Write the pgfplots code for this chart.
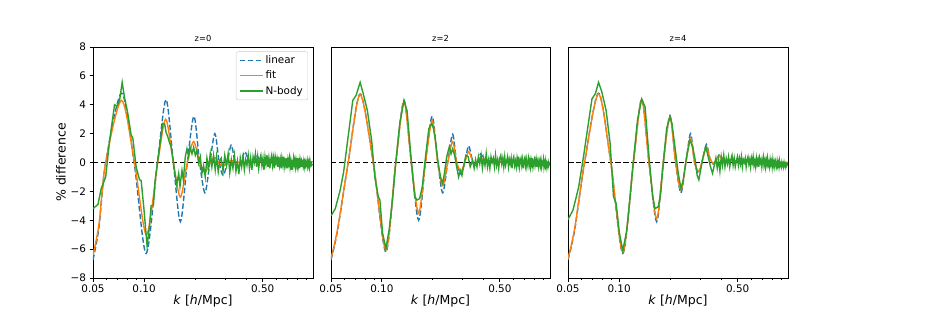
\documentclass[border=0pt]{standalone}
\usepackage{fontspec}
\setmainfont{DejaVu Sans}
\usepackage{pgfplots}
\pgfplotsset{compat=1.18}
\definecolor{mplblue}{RGB}{31,119,180}
\definecolor{mplorange}{RGB}{255,127,14}
\definecolor{mplgreen}{RGB}{44,160,44}
\begin{document}
\begin{tikzpicture}
\useasboundingbox (0,0) rectangle (927pt,309pt);
% ---------------- z=0
\begin{axis}[at={(93pt,31pt)}, anchor=south west, width=220pt,
  scale only axis, height=231pt,
  xmode=log, xmin=0.05, xmax=0.99, ymin=-8, ymax=8,
  xtick={0.05,0.1,0.5}, xticklabels={0.05,0.10,0.50},
  minor xtick={0.06,0.07,0.08,0.09,0.2,0.3,0.4,0.6,0.7,0.8,0.9},
  tick align=outside, tick pos=left,
  major tick length=3.5pt, minor tick length=2pt,
  every tick/.style={black, line width=0.8pt},
  minor tick style={black, line width=0.6pt},
  axis line style={line width=0.8pt},
  ticklabel style={font=\fontsize{10.4}{12}\selectfont},
  xlabel={\textit{k} [\textit{h}/Mpc]},
  xlabel style={font=\fontsize{12.5}{14}\selectfont, yshift=5pt},
  title style={font=\fontsize{8.3}{10}\selectfont, yshift=-4pt},
  title={z=0},
  ytick={-8,-6,-4,-2,0,2,4,6,8},
  yticklabels={−8,−6,−4,−2,0,2,4,6,8},
  ylabel={\% difference},
  ylabel style={font=\fontsize{12.5}{14}\selectfont, yshift=-2pt},
  legend style={at={(rel axis cs:1,1)}, anchor=north east, xshift=-5pt, yshift=-4.5pt,
    draw=black!20, rounded corners=2pt, fill=white,
    font=\fontsize{10.4}{12}\selectfont, inner xsep=3pt, inner ysep=2pt, row sep=2pt},
  legend cell align=left,
  legend image post style={xscale=1.35},
]
\addlegendimage{color=mplblue, solid, line width=1.4pt, dash pattern=on 5.5pt off 2.4pt}
\addlegendentry{linear}
\addlegendimage{color=mplorange, solid, line width=1.4pt}
\addlegendentry{fit}
\addlegendimage{color=mplgreen, solid, line width=1.4pt}
\addlegendentry{N-body}
\addplot[black, line width=1.2pt, dash pattern=on 5.5pt off 2.4pt, forget plot] coordinates {(0.05,0) (0.99,0)};
\addplot[color=mplblue, line width=1.4pt, dash pattern=on 5.5pt off 2.4pt, smooth, forget plot] coordinates {
(0.0500,-6.75) (0.0542,-4.5) (0.0594,0) (0.0737,4.8) (0.0874,0) (0.1028,-6.3)
(0.1199,0) (0.1347,4.35) (0.1488,0) (0.1636,-4.1) (0.1798,0) (0.1968,3.2)
(0.2125,0) (0.2284,-2.1) (0.2444,0) (0.2614,2.0) (0.2773,0) (0.2927,-0.9)
(0.3089,0) (0.3262,1.2) (0.3427,0.1) (0.3585,-0.35) (0.3750,0.15) (0.3923,0.75)
(0.4086,0.3) (0.4255,-0.1) (0.4432,0.2) (0.4594,0.5) (0.4763,0.25) (0.4938,0.05)
(0.528,0.3) (0.570,0.1) (0.624,0.15) (0.748,0.05) (0.99,0.05)};
\addplot[color=mplorange, line width=1.4pt, smooth, forget plot] coordinates {
(0.0500,-6.4) (0.0542,-4.3) (0.0594,0) (0.0737,4.3) (0.0878,0) (0.1033,-5.0)
(0.1204,0) (0.1341,3.0) (0.1488,0) (0.1636,-2.4) (0.1798,0) (0.1960,1.45)
(0.2125,0) (0.2284,-0.7) (0.2444,0) (0.2602,0.35) (0.2773,-0.05) (0.2927,-0.25)
(0.3174,0.1) (0.3396,0.1) (0.3634,0.0) (0.4161,0.05) (0.597,0.05) (0.99,0.05)};
\addplot[color=mplgreen, line width=1.4pt, forget plot] coordinates {
(0.0500,-3.2) (0.0535,-2.9) (0.0559,-1.8) (0.0594,-1.0) (0.0626,1.5) (0.0670,4.0)
(0.0692,3.9) (0.0717,4.3) (0.0743,5.55) (0.0767,4.5) (0.0802,3.4) (0.0839,1.9)
(0.0858,1.7) (0.0898,-0.3) (0.0940,-1.2) (0.0961,-1.25) (0.0996,-3.1) (0.1042,-5.8)
(0.1076,-4.4) (0.1100,-3.0) (0.1135,-2.95) (0.1161,-1.3) (0.1204,0.15) (0.1249,1.5)
(0.1288,2.7) (0.1324,2.65) (0.1347,2.1) (0.1378,1.8) (0.1410,1.4) (0.1442,1.1)
(0.1474,0.4) (0.1508,-0.5) (0.1557,-1.55) (0.1600,-0.75) (0.1628,-1.65) (0.1673,-0.55)
(0.1704,-1.2) (0.1750,0.4) (0.1790,0.95) (0.1831,0.4) (0.1865,1.1) (0.1916,0.6)
(0.1960,1.05) (0.2004,0.5) (0.2049,0.85) (0.2096,-0.05) (0.2144,0.4) (0.2193,-0.75)
(0.2243,-0.2) (0.2294,-1.0) (0.2347,0.3) (0.2400,-0.4) (0.2455,0.6) (0.2510,-0.3)
(0.2568,0.5) (0.2626,-0.5) (0.2674,0.4) (0.2736,-0.65) (0.2798,0.15)
(0.285,0.3) (0.292,-0.6) (0.299,0.5) (0.306,-0.2) (0.313,0.6) (0.320,-0.7)
(0.327,0.2) (0.334,-0.4) (0.341,0.5) (0.348,-0.6) (0.355,0.1) (0.362,-0.8)
(0.369,0.3) (0.376,-0.3) (0.383,0.4) (0.390,-0.5) (0.397,0.2) (0.404,-0.2)
(0.411,0.5) (0.418,-0.4) (0.425,0.3) (0.432,-0.5) (0.439,0.4) (0.446,0.0)
(0.453,0.6) (0.460,-0.3) (0.467,0.4) (0.474,-0.4) (0.481,0.2) (0.488,0.5)
(0.495,-0.2) (0.502,0.3) (0.509,-0.5) (0.516,0.4) (0.523,-0.1) (0.530,0.5)
(0.537,-0.3) (0.544,0.3) (0.551,-0.4) (0.558,0.2) (0.565,0.5) (0.572,-0.2)
(0.579,0.3) (0.586,-0.4) (0.593,0.4) (0.600,0.0) (0.607,0.3) (0.614,-0.3)
(0.621,0.4) (0.628,-0.2) (0.635,0.2) (0.642,-0.4) (0.649,0.3) (0.656,-0.1)
(0.663,0.4) (0.670,-0.3) (0.677,0.1) (0.684,-0.2) (0.691,0.3) (0.698,-0.4)
(0.705,0.2) (0.712,-0.1) (0.719,0.3) (0.726,-0.3) (0.733,0.1) (0.740,-0.5)
(0.747,0.2) (0.754,-0.2) (0.761,0.3) (0.768,-0.1) (0.775,0.2) (0.782,-0.3)
(0.789,0.1) (0.796,-0.2) (0.803,0.3) (0.810,-0.3) (0.817,0.0) (0.824,-0.4)
(0.831,0.2) (0.838,-0.1) (0.845,0.1) (0.852,-0.3) (0.859,0.2) (0.866,-0.2)
(0.873,0.1) (0.880,-0.3) (0.887,0.0) (0.894,-0.2) (0.901,0.1) (0.908,-0.1)
(0.915,-0.3) (0.922,0.1) (0.929,-0.2) (0.936,0.0) (0.943,-0.3) (0.950,0.1)
(0.957,-0.2) (0.964,-0.1) (0.971,-0.2) (0.985,-0.1)};
\end{axis}
% ---------------- z=2
\begin{axis}[at={(331pt,31pt)}, anchor=south west, width=219pt,
  scale only axis, height=231pt,
  xmode=log, xmin=0.05, xmax=0.99, ymin=-8, ymax=8,
  xtick={0.05,0.1,0.5}, xticklabels={0.05,0.10,0.50},
  minor xtick={0.06,0.07,0.08,0.09,0.2,0.3,0.4,0.6,0.7,0.8,0.9},
  tick align=outside, tick pos=left,
  major tick length=3.5pt, minor tick length=2pt,
  every tick/.style={black, line width=0.8pt},
  minor tick style={black, line width=0.6pt},
  axis line style={line width=0.8pt},
  ticklabel style={font=\fontsize{10.4}{12}\selectfont},
  xlabel={\textit{k} [\textit{h}/Mpc]},
  xlabel style={font=\fontsize{12.5}{14}\selectfont, yshift=5pt},
  title style={font=\fontsize{8.3}{10}\selectfont, yshift=-4pt},
  title={z=2}, ytick=\empty]
\addplot[black, line width=1.2pt, dash pattern=on 5.5pt off 2.4pt] coordinates {(0.05,0) (0.99,0)};
\addplot[color=mplblue, line width=1.4pt, dash pattern=on 5.5pt off 2.4pt, smooth] coordinates {
(0.0500,-6.75) (0.0547,-4.7) (0.0632,0) (0.0744,4.75) (0.0890,0) (0.1057,-6.2)
(0.1209,0) (0.1353,4.3) (0.1494,0) (0.1651,-4.0) (0.1814,0) (0.1986,3.2)
(0.2144,0) (0.2294,-2.1) (0.2455,0) (0.2626,1.95) (0.2773,0) (0.2940,-0.8)
(0.3103,0.05) (0.3262,1.15) (0.3411,0.3) (0.3553,-0.2) (0.3700,0.1) (0.3853,0.6)
(0.4068,0.1) (0.4352,0.3) (0.4763,0.05) (0.597,0.1) (0.99,0.0)};
\addplot[color=mplorange, line width=1.4pt, smooth] coordinates {
(0.0500,-6.65) (0.0547,-4.6) (0.0632,0) (0.0744,4.7) (0.0890,0) (0.1057,-6.05)
(0.1209,0) (0.1353,4.2) (0.1494,0) (0.1651,-3.5) (0.1814,0) (0.1986,2.9)
(0.2144,0) (0.2294,-1.6) (0.2455,0) (0.2626,1.45) (0.2773,0) (0.2940,-0.6)
(0.3103,0.05) (0.3262,0.75) (0.3411,0.25) (0.3553,-0.15) (0.3700,0.05) (0.3853,0.35)
(0.4068,0.05) (0.4352,0.15) (0.4763,0.05) (0.597,0.05) (0.99,0.0)};
\addplot[color=mplgreen, line width=1.4pt] coordinates {
(0.0500,-3.7) (0.0530,-3.2) (0.0567,-1.9) (0.0594,-0.65) (0.0635,2.0) (0.0673,4.3)
(0.0704,4.65) (0.0744,5.55) (0.0777,4.75) (0.0821,3.6) (0.0870,1.55) (0.0909,-1.0)
(0.0952,-2.35) (0.0974,-2.6) (0.1010,-4.9) (0.1057,-5.95) (0.1105,-4.65) (0.1156,-2.6)
(0.1209,-0.05) (0.1277,2.7) (0.1353,4.3) (0.1410,3.6) (0.1494,0.15) (0.1564,-2.35)
(0.1614,-2.6) (0.1673,-2.5) (0.1735,-1.7) (0.1814,0.4) (0.1898,2.35) (0.1977,2.7)
(0.2022,2.35) (0.2077,1.55) (0.2144,0.15) (0.2223,-1.0) (0.2294,-1.45) (0.2347,-0.75)
(0.2422,0.4) (0.2510,1.1) (0.2568,0.6) (0.2626,0.95) (0.2698,0.5) (0.2773,-0.3)
(0.2849,-1.0) (0.2913,-0.55) (0.2980,-0.9) (0.3075,-0.05) (0.3145,0.5) (0.3247,0.4)
(0.3335,-0.3) (0.3443,0.15) (0.3521,-0.4)
(0.359,0.2) (0.366,-0.3) (0.373,0.4) (0.380,-0.1) (0.387,0.5) (0.394,-0.4)
(0.401,0.3) (0.408,-0.2) (0.415,0.6) (0.422,-0.3) (0.429,0.2) (0.436,-0.4)
(0.443,0.4) (0.450,0.0) (0.457,0.3) (0.464,-0.3) (0.471,0.5) (0.478,-0.2)
(0.485,0.2) (0.492,-0.4) (0.499,0.3) (0.506,0.5) (0.513,-0.1) (0.520,0.3)
(0.527,-0.3) (0.534,0.4) (0.541,-0.2) (0.548,0.1) (0.555,0.4) (0.562,-0.3)
(0.569,0.2) (0.576,-0.1) (0.583,0.3) (0.590,-0.4) (0.597,0.2) (0.604,0.4)
(0.611,-0.2) (0.618,0.1) (0.625,-0.3) (0.632,0.3) (0.639,-0.1) (0.646,0.4)
(0.653,-0.3) (0.660,0.1) (0.667,0.3) (0.674,-0.2) (0.681,0.2) (0.688,-0.4)
(0.695,0.1) (0.702,0.3) (0.709,-0.2) (0.716,0.2) (0.723,-0.3) (0.730,0.0)
(0.737,0.3) (0.744,-0.2) (0.751,0.1) (0.758,-0.3) (0.765,0.2) (0.772,-0.1)
(0.779,0.3) (0.786,-0.3) (0.793,0.0) (0.800,0.2) (0.807,-0.2) (0.814,0.1)
(0.821,-0.3) (0.828,0.2) (0.835,-0.1) (0.842,0.1) (0.849,-0.3) (0.856,0.0)
(0.863,0.2) (0.870,-0.2) (0.877,0.1) (0.884,-0.3) (0.891,0.0) (0.898,-0.1)
(0.905,0.2) (0.912,-0.3) (0.919,0.0) (0.926,-0.2) (0.933,0.1) (0.940,-0.3)
(0.947,0.0) (0.954,-0.1) (0.961,-0.3) (0.968,0.0) (0.975,-0.2) (0.982,-0.1)
(0.989,-0.2)};
\end{axis}
% ---------------- z=4
\begin{axis}[at={(568pt,31pt)}, anchor=south west, width=220pt,
  scale only axis, height=231pt,
  xmode=log, xmin=0.05, xmax=0.99, ymin=-8, ymax=8,
  xtick={0.05,0.1,0.5}, xticklabels={0.05,0.10,0.50},
  minor xtick={0.06,0.07,0.08,0.09,0.2,0.3,0.4,0.6,0.7,0.8,0.9},
  tick align=outside, tick pos=left,
  major tick length=3.5pt, minor tick length=2pt,
  every tick/.style={black, line width=0.8pt},
  minor tick style={black, line width=0.6pt},
  axis line style={line width=0.8pt},
  ticklabel style={font=\fontsize{10.4}{12}\selectfont},
  xlabel={\textit{k} [\textit{h}/Mpc]},
  xlabel style={font=\fontsize{12.5}{14}\selectfont, yshift=5pt},
  title style={font=\fontsize{8.3}{10}\selectfont, yshift=-4pt},
  title={z=4}, ytick=\empty]
\addplot[black, line width=1.2pt, dash pattern=on 5.5pt off 2.4pt] coordinates {(0.05,0) (0.99,0)};
\addplot[color=mplblue, line width=1.4pt, dash pattern=on 5.5pt off 2.4pt, smooth] coordinates {
(0.0500,-6.75) (0.0547,-4.7) (0.0626,0) (0.0757,4.8) (0.0894,0) (0.1052,-6.3)
(0.1215,0) (0.1359,4.4) (0.1501,0) (0.1666,-4.1) (0.1822,0) (0.1995,3.25)
(0.2154,0) (0.2315,-2.1) (0.2477,0) (0.2638,2.0) (0.2786,0) (0.2953,-0.75)
(0.3103,0.2) (0.3276,1.25) (0.3427,0.3) (0.3585,-0.1) (0.3750,0.2) (0.3923,0.55)
(0.4161,0.1) (0.4553,0.2) (0.521,0.05) (0.99,0.0)};
\addplot[color=mplorange, line width=1.4pt, smooth] coordinates {
(0.0500,-6.65) (0.0547,-4.6) (0.0626,0) (0.0757,4.75) (0.0894,0) (0.1052,-6.2)
(0.1215,0) (0.1359,4.35) (0.1501,0) (0.1666,-3.9) (0.1822,0) (0.1995,3.15)
(0.2154,0) (0.2315,-1.9) (0.2477,0) (0.2638,1.7) (0.2786,0) (0.2953,-0.6)
(0.3103,0.2) (0.3276,1.1) (0.3427,0.3) (0.3585,-0.05) (0.3750,0.2) (0.3923,0.45)
(0.4161,0.1) (0.4553,0.15) (0.521,0.05) (0.99,0.0)};
\addplot[color=mplgreen, line width=1.4pt] coordinates {
(0.0500,-3.95) (0.0535,-3.3) (0.0578,-1.7) (0.0617,0.4) (0.0661,2.8) (0.0692,4.4)
(0.0724,4.75) (0.0757,5.55) (0.0791,4.9) (0.0839,3.6) (0.0886,1.3) (0.0927,-2.35)
(0.0961,-2.85) (0.1005,-4.9) (0.1052,-6.1) (0.1110,-4.7) (0.1161,-2.4) (0.1215,0.15)
(0.1283,2.9) (0.1359,4.4) (0.1423,3.85) (0.1501,0.4) (0.1578,-2.35) (0.1628,-3.2)
(0.1704,-3.05) (0.1758,-2.15) (0.1822,-0.05) (0.1907,2.35) (0.1995,3.15) (0.2049,2.7)
(0.2134,1.1) (0.2233,-0.75) (0.2315,-1.8) (0.2390,-1.2) (0.2499,0.4) (0.2614,1.55)
(0.2711,1.1) (0.2798,0.3) (0.2887,-0.9) (0.2953,-1.2) (0.3021,-0.55) (0.3131,0.4)
(0.3247,1.1) (0.3350,0.4) (0.3458,-0.3) (0.3553,-0.75) (0.3667,-0.05)
(0.372,0.3) (0.379,-0.4) (0.386,0.2) (0.393,-0.6) (0.400,0.4) (0.407,-0.2)
(0.414,0.5) (0.421,-0.3) (0.428,0.3) (0.435,-0.1) (0.442,0.4) (0.449,-0.3)
(0.456,0.2) (0.463,0.5) (0.470,-0.2) (0.477,0.3) (0.484,-0.3) (0.491,0.1)
(0.498,0.4) (0.505,-0.2) (0.512,0.3) (0.519,-0.1) (0.526,0.4) (0.533,-0.3)
(0.540,0.2) (0.547,0.0) (0.554,0.3) (0.561,-0.3) (0.568,0.2) (0.575,0.4)
(0.582,-0.1) (0.589,0.2) (0.596,-0.3) (0.603,0.3) (0.610,0.0) (0.617,0.4)
(0.624,-0.2) (0.631,0.1) (0.638,-0.3) (0.645,0.3) (0.652,-0.1) (0.659,0.2)
(0.666,-0.3) (0.673,0.3) (0.680,0.0) (0.687,0.2) (0.694,-0.3) (0.701,0.1)
(0.708,0.4) (0.715,-0.2) (0.722,0.1) (0.729,-0.3) (0.736,0.2) (0.743,-0.1)
(0.750,0.3) (0.757,-0.2) (0.764,0.0) (0.771,-0.3) (0.778,0.2) (0.785,-0.1)
(0.792,0.1) (0.799,-0.3) (0.806,0.2) (0.813,-0.2) (0.820,0.0) (0.827,-0.3)
(0.834,0.1) (0.841,-0.1) (0.848,-0.3) (0.855,0.1) (0.862,-0.2) (0.869,0.0)
(0.876,-0.3) (0.883,0.1) (0.890,-0.2) (0.897,-0.1) (0.904,-0.3) (0.911,0.0)
(0.918,-0.2) (0.925,-0.1) (0.932,-0.3) (0.939,0.0) (0.946,-0.2) (0.953,-0.1)
(0.960,-0.3) (0.967,-0.1) (0.974,-0.2) (0.981,-0.1) (0.988,-0.2)};
\end{axis}
\end{tikzpicture}
\end{document}
